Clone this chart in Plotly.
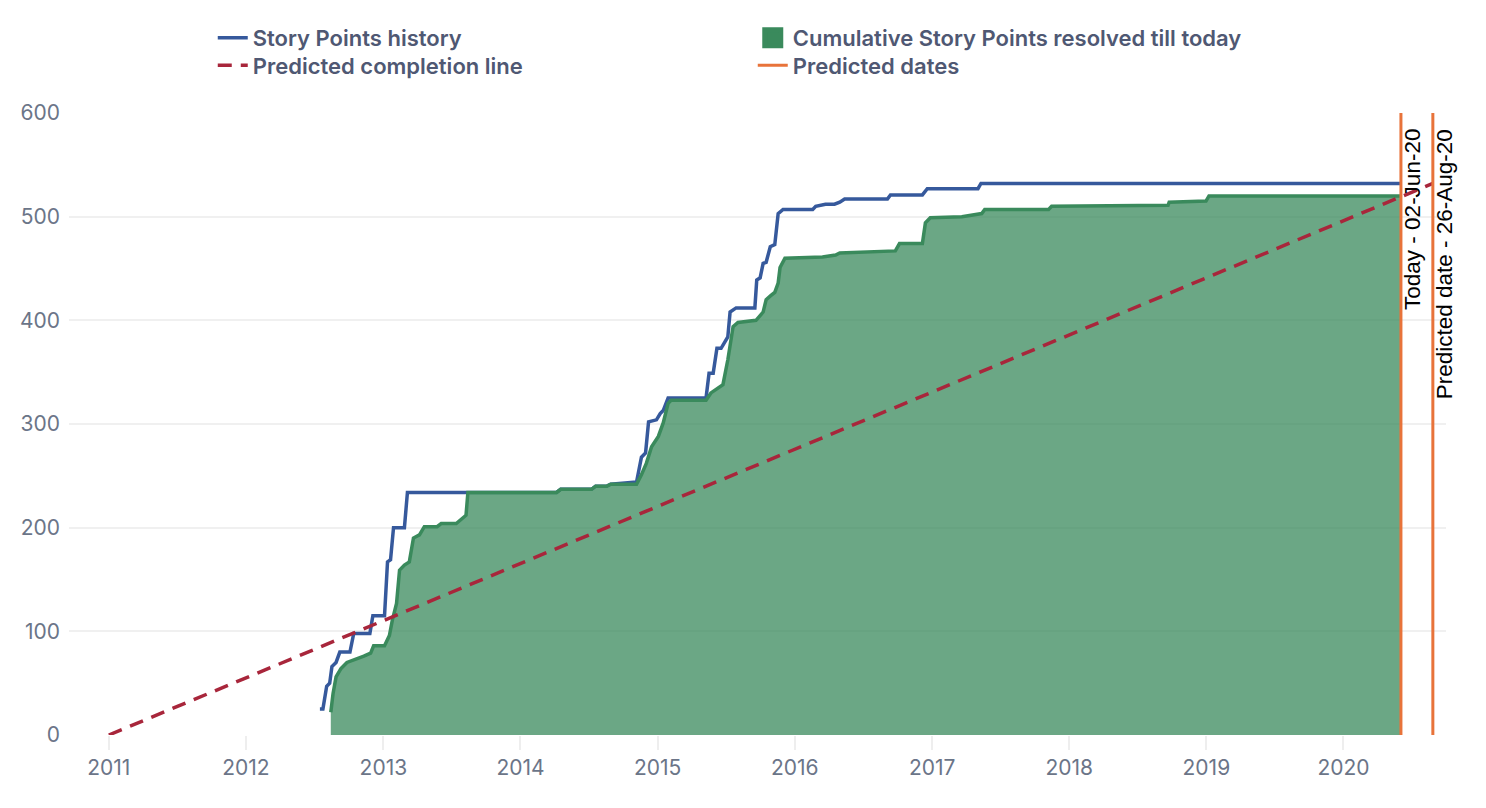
import plotly.graph_objects as go

# Story points history (total scope)
history_dates = [
    "2012-07-16", "2012-07-24", "2012-08-03", "2012-08-11", "2012-08-17", "2012-08-28",
    "2012-09-07", "2012-10-04", "2012-10-14", "2012-11-26", "2012-12-04", "2013-01-04",
    "2013-01-12", "2013-01-20", "2013-01-28", "2013-02-26", "2013-03-06", "2013-08-14",
    "2014-04-07", "2014-04-18", "2014-07-09", "2014-07-20", "2014-08-18", "2014-08-29",
    "2014-11-06", "2014-11-19", "2014-11-30", "2014-12-08", "2014-12-29", "2015-01-08",
    "2015-01-16", "2015-01-29", "2015-05-10", "2015-05-18", "2015-05-29", "2015-06-08",
    "2015-06-19", "2015-07-07", "2015-07-13", "2015-07-29", "2015-09-17", "2015-09-22",
    "2015-10-01", "2015-10-09", "2015-10-17", "2015-10-28", "2015-11-09", "2015-11-18",
    "2015-12-01", "2016-02-18", "2016-02-26", "2016-03-23", "2016-04-16", "2016-04-30",
    "2016-05-13", "2016-09-04", "2016-09-12", "2016-12-06", "2016-12-19", "2017-05-03",
    "2017-05-11", "2020-06-02",
]
history_points = [
    25, 25, 47, 50, 66, 70,
    80, 80, 98, 98, 115, 115,
    167, 169, 200, 200, 234, 234,
    234, 237, 237, 240, 240, 242,
    244, 268, 272, 302, 304, 310,
    313, 325, 325, 349, 349, 373,
    373, 384, 408, 412, 412, 439,
    441, 455, 456, 471, 473, 503,
    507, 507, 510, 512, 512, 514,
    517, 517, 521, 521, 527, 527,
    532, 532,
]

# Cumulative story points resolved
resolved_dates = [
    "2012-08-14", "2012-08-20", "2012-08-28", "2012-09-10", "2012-09-26", "2012-10-22",
    "2012-11-10", "2012-11-28", "2012-12-06", "2013-01-04", "2013-01-17", "2013-01-25",
    "2013-02-05", "2013-02-13", "2013-02-26", "2013-03-11", "2013-03-22", "2013-04-07",
    "2013-04-20", "2013-05-24", "2013-06-04", "2013-07-14", "2013-07-27", "2013-08-09",
    "2013-08-14", "2014-04-07", "2014-04-18", "2014-07-09", "2014-07-20", "2014-08-18",
    "2014-08-29", "2014-11-06", "2014-11-19", "2014-12-02", "2014-12-16", "2015-01-03",
    "2015-01-16", "2015-01-29", "2015-02-06", "2015-05-10", "2015-05-23", "2015-06-11",
    "2015-06-24", "2015-07-07", "2015-07-21", "2015-08-03", "2015-09-20", "2015-10-09",
    "2015-10-17", "2015-10-30", "2015-11-09", "2015-11-18", "2015-11-23", "2015-12-06",
    "2016-03-15", "2016-04-19", "2016-04-30", "2016-09-25", "2016-10-06", "2016-12-06",
    "2016-12-14", "2016-12-27", "2017-03-21", "2017-05-13", "2017-05-21", "2017-11-07",
    "2017-11-15", "2018-09-21", "2018-09-24", "2018-12-31", "2019-01-08", "2020-06-02",
]
resolved_points = [
    22, 40, 56, 64, 70, 73,
    76, 79, 86, 86, 96, 111,
    127, 159, 164, 167, 190, 193,
    201, 201, 204, 204, 208, 212,
    234, 234, 237, 237, 240, 240,
    242, 242, 251, 262, 278, 288,
    301, 320, 323, 323, 330, 335,
    338, 362, 394, 398, 400, 408,
    420, 424, 427, 436, 451, 460,
    461, 463, 465, 467, 474, 474,
    494, 499, 500, 503, 507, 507,
    510, 511, 514, 515, 520, 520,
]

# Predicted completion line
prediction_dates = ["2011-01-01", "2020-08-26"]
prediction_points = [0, 532]

# Vertical markers
marker_dates = ["2020-06-02", "2020-08-26"]
marker_labels = ["Today - 02-Jun-20", "Predicted date - 26-Aug-20"]

BLUE = "#36599c"
GREEN = "#3a8a5c"
RED = "#a8263b"
ORANGE = "#e8733a"
Y_MAX = 600

fig = go.Figure()

fig.add_trace(go.Scatter(
    x=history_dates, y=history_points, mode="lines",
    name="Story Points history", legend="legend",
    line=dict(color=BLUE, width=3.5),
))
fig.add_trace(go.Scatter(
    x=resolved_dates, y=resolved_points, mode="lines",
    name="Cumulative Story Points resolved till today",
    line=dict(color=GREEN, width=3.5),
    fill="tozeroy", fillcolor="rgba(58,138,92,0.75)",
    showlegend=False,
))
# legend entry with a solid square
fig.add_trace(go.Scatter(
    x=[None], y=[None], mode="markers",
    name="Cumulative Story Points resolved till today", legend="legend",
    marker=dict(symbol="square", size=16, color=GREEN, line=dict(width=5, color=GREEN)),
))
fig.add_trace(go.Scatter(
    x=prediction_dates, y=prediction_points, mode="lines",
    name="Predicted completion line", legend="legend2",
    line=dict(color=RED, width=3.5, dash="14px,9px"),
))

vx, vy = [], []
for d in marker_dates:
    vx += [d, d, None]
    vy += [0, Y_MAX, None]
fig.add_trace(go.Scatter(
    x=vx, y=vy, mode="lines",
    name="Predicted dates", legend="legend2",
    line=dict(color=ORANGE, width=3),
))

for d, label in zip(marker_dates, marker_labels):
    fig.add_annotation(
        x=d, y=Y_MAX, xref="x", yref="y",
        text=label, showarrow=False, textangle=-90,
        xanchor="left", yanchor="top", xshift=-3, yshift=-14,
        font=dict(family="Liberation Sans, Arial", size=22.5, color="#000000"),
    )

legend_style = dict(
    orientation="h", x=0.1044, xanchor="left", yanchor="middle", yref="container",
    entrywidth=495, entrywidthmode="pixels",
    font=dict(family="Inter, Noto Sans, sans-serif", size=22, color="#4f5873", weight=600),
    bgcolor="rgba(0,0,0,0)",
)

fig.update_layout(
    width=1486, height=808,
    margin=dict(l=55, r=48, t=105, b=81),
    paper_bgcolor="white", plot_bgcolor="white",
    font=dict(family="Inter, Noto Sans, sans-serif", size=21, color="#6b7588"),
    showlegend=True,
    legend=dict(legend_style, y=0.963),
    legend2=dict(legend_style, y=0.929),
    hovermode=False,
)
fig.update_xaxes(
    type="date", range=["2010-09-17", "2020-09-30"],
    dtick="M12", tick0="2011-01-01", tickformat="%Y",
    showgrid=False, zeroline=False, showline=False,
    ticks="outside", ticklen=14, tickcolor="#eeeeee", tickwidth=1.5,
)
fig.update_yaxes(
    range=[0, Y_MAX], dtick=100,
    showgrid=True, gridcolor="#f0f0f0", gridwidth=1.5,
    zeroline=False, showline=False, ticklabelstandoff=8,
)

fig.write_html("out.html")
